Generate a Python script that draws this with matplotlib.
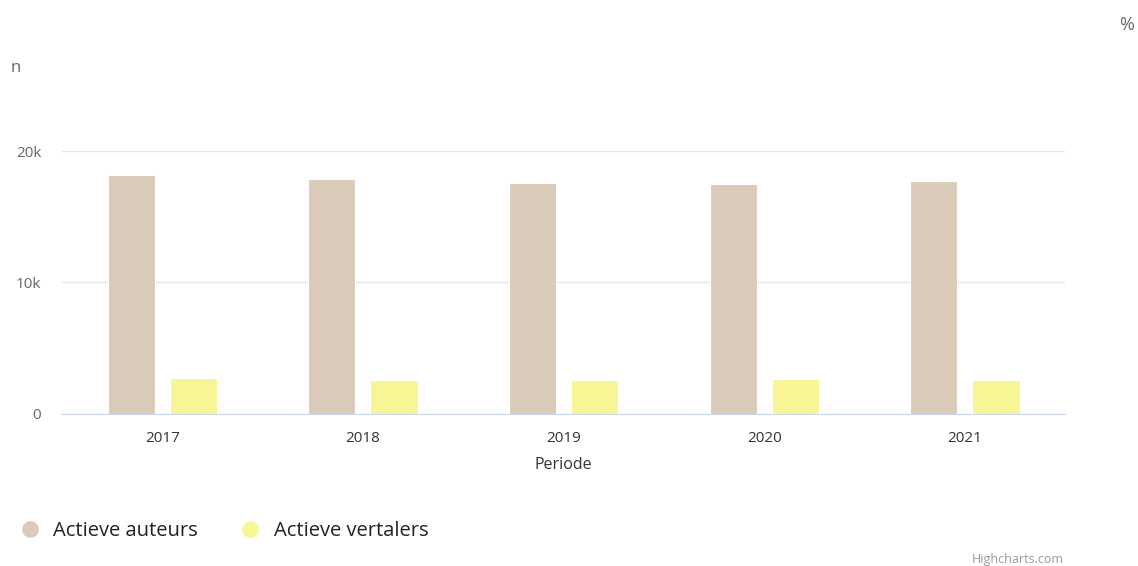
import numpy as np
import matplotlib
matplotlib.use("Agg")
import matplotlib.pyplot as plt
from matplotlib.lines import Line2D

plt.rcParams["font.family"] = ["Open Sans", "DejaVu Sans"]

years = ["2017", "2018", "2019", "2020", "2021"]
auteurs = [18200, 17870, 17570, 17500, 17740]
vertalers = [2740, 2600, 2600, 2660, 2580]
yticks = [0, 10000, 20000]
ytick_labels = ["0", "10k", "20k"]

C_AUT = "#dbcbba"
C_VER = "#f8f596"
GREY = "#666666"

fig = plt.figure(figsize=(11.38, 5.66), dpi=100)
ax = fig.add_axes([0.0545, 0.2686, 0.8815, 0.4646])

x = np.arange(len(years))
w = 0.235
ax.bar(x - 0.155, auteurs, w, color=C_AUT, edgecolor="white", linewidth=0.8, zorder=3)
ax.bar(x + 0.155, vertalers, w, color=C_VER, edgecolor="white", linewidth=0.8, zorder=3)

ax.set_xlim(-0.5, len(years) - 0.5)
ax.set_ylim(0, 20000)
ax.set_yticks(yticks)
ax.set_yticklabels(ytick_labels)
ax.set_xticks(x)
ax.set_xticklabels(years)
ax.tick_params(axis="y", length=0, pad=15, labelsize=11, labelcolor=GREY)
ax.tick_params(axis="x", length=0, pad=12, labelsize=11, labelcolor="#333333")
for s in ("top", "right", "left"):
    ax.spines[s].set_visible(False)
ax.spines["bottom"].set_color("#ccd6eb")
ax.spines["bottom"].set_zorder(4)
ax.yaxis.grid(True, color="#e6e6e6", linewidth=1, zorder=0)
ax.set_axisbelow(True)

ax.set_xlabel("Periode", fontsize=11.5, color="#333333", labelpad=8)

fig.text(16 / 1138, 1 - 68 / 566, "n", fontsize=12, color=GREY, ha="center", va="center")
fig.text(1127 / 1138, 1 - 25 / 566, "%", fontsize=13, color=GREY, ha="center", va="center")

handles = [
    Line2D([], [], marker="o", linestyle="none", markersize=11, color=C_AUT),
    Line2D([], [], marker="o", linestyle="none", markersize=11, color=C_VER),
]
fig.legend(handles, ["Actieve auteurs", "Actieve vertalers"], loc="center left",
           bbox_to_anchor=(20 / 1138, 1 - 531 / 566), ncol=2, frameon=False,
           fontsize=14.5, handlelength=1.0, handletextpad=0.65, columnspacing=2.1,
           labelcolor="#222222", borderaxespad=0, borderpad=0)

fig.text(1064 / 1138, 1 - 560 / 566, "Highcharts.com", fontsize=9, color="#999999",
         ha="right", va="center")

fig.savefig("out.png", dpi=100)
